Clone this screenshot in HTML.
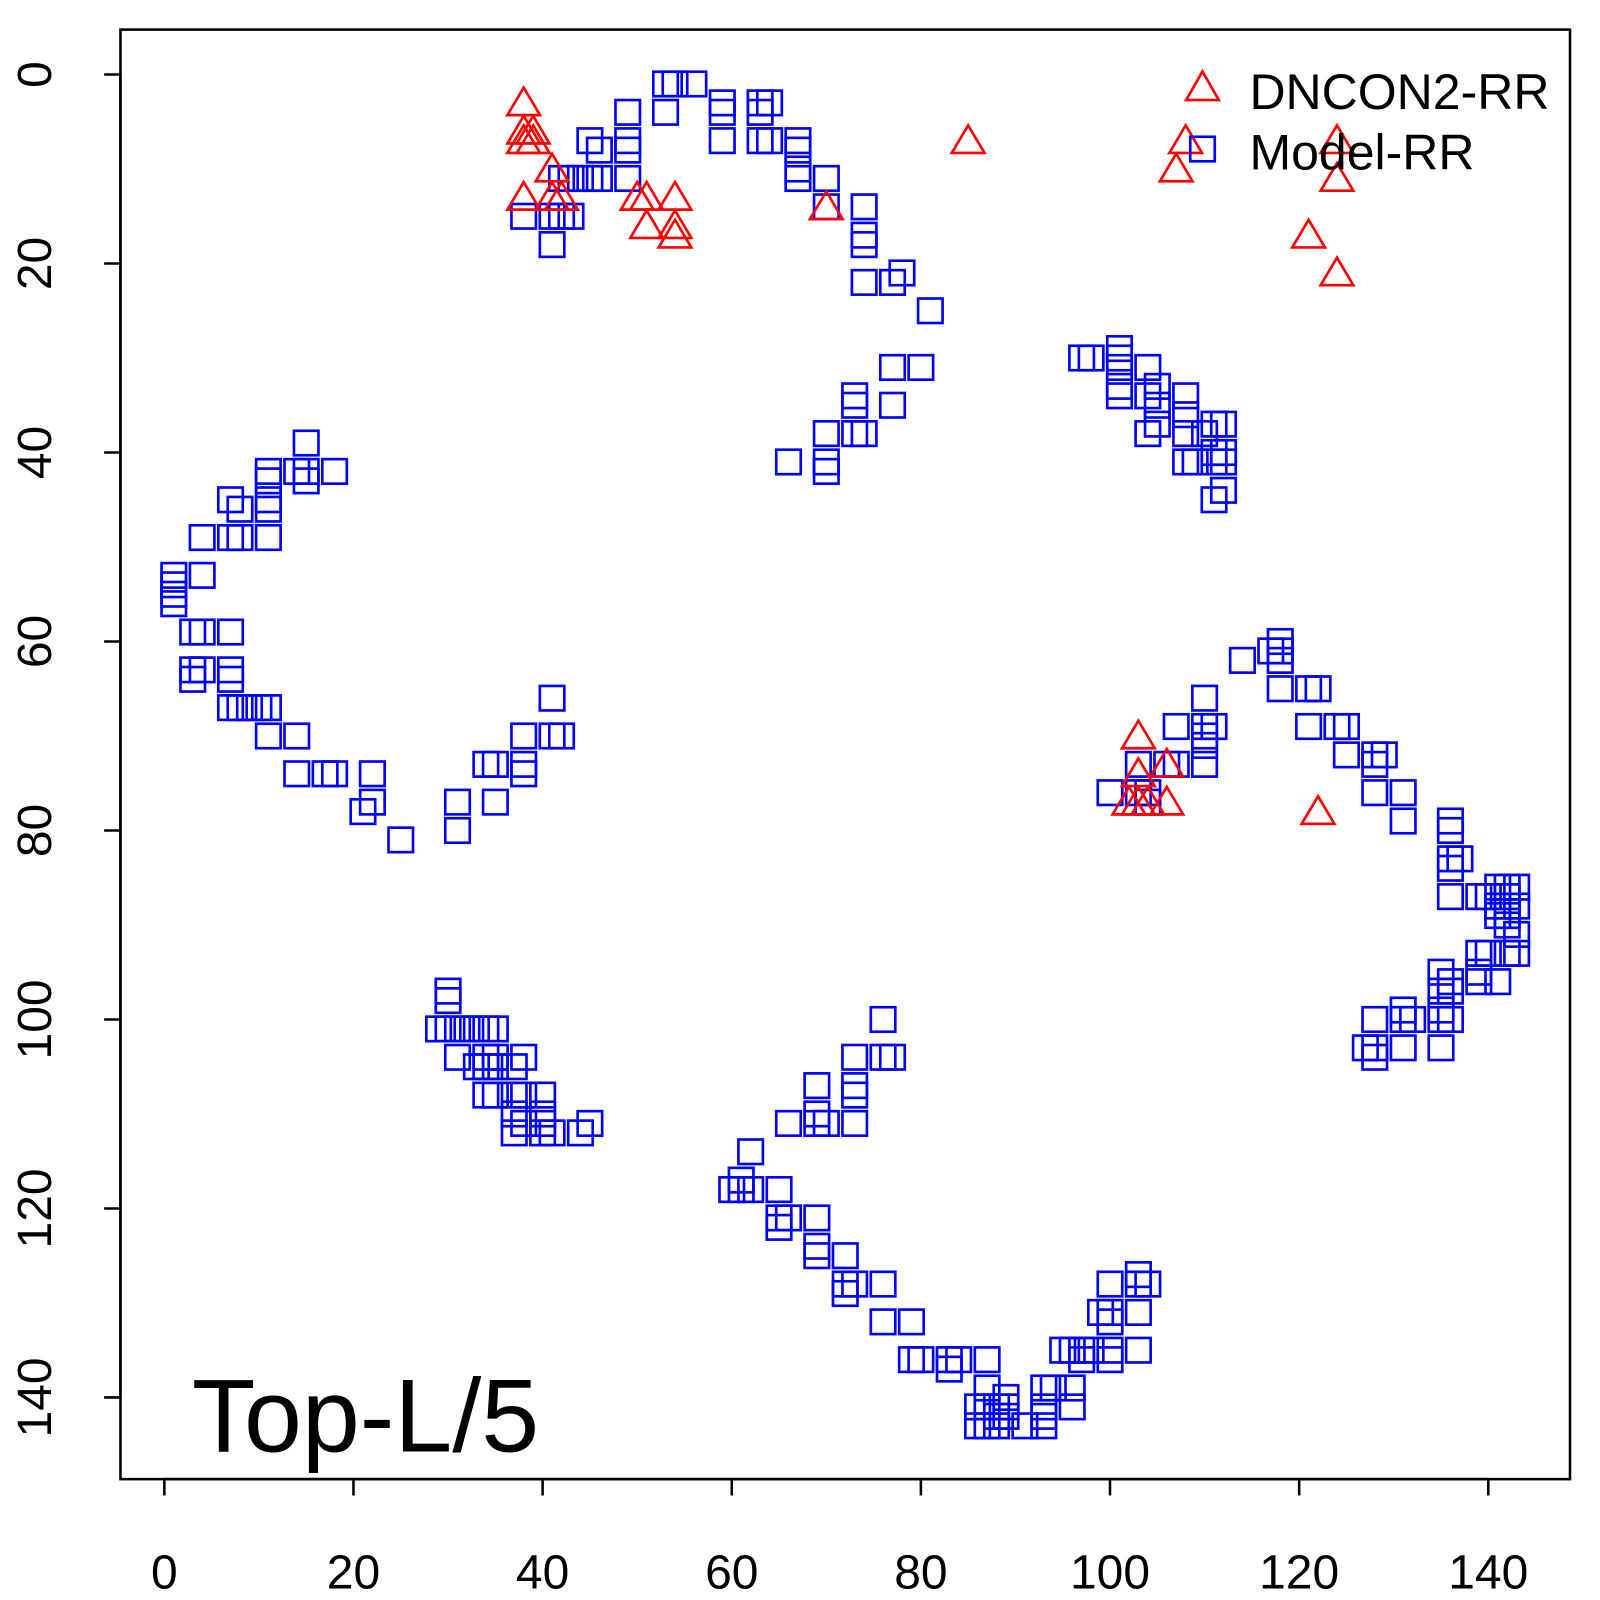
<!DOCTYPE html>
<html><head><meta charset="utf-8"><style>
html,body{margin:0;padding:0;background:#fff;}
svg{display:block;font-family:"Liberation Sans",sans-serif;}
</style></head><body>
<svg id="s" width="1600" height="1600" viewBox="0 0 1600 1600" xmlns="http://www.w3.org/2000/svg">
<rect x="0" y="0" width="1600" height="1600" fill="#fff"/>
<g transform="scale(1.0208)">
<rect x="118" y="29" width="1420" height="1420" fill="none" stroke="#000" stroke-width="2.5"/>
<g id="ax" stroke="#000" stroke-width="2.5"></g>
<g id="lab" font-size="47" fill="#000"></g>
<g id="pts" fill="none" stroke-width="2.6"></g>
<polygon points="1178,70 1162,98 1194,98" fill="none" stroke="#f00" stroke-width="2.6"/>
<rect x="1166" y="134" width="24" height="24" fill="none" stroke="#00f" stroke-width="2.6"/>
<text x="1224" y="107" font-size="49">DNCON2-RR</text>
<text x="1224" y="166" font-size="49">Model-RR</text>
<text x="188" y="1422" font-size="102">Top-L/5</text>
</g>
</svg>
<script>
const NS="http://www.w3.org/2000/svg";
const X=v=>161+v*9.264, Y=v=>73+v*9.257;
function el(p,t,a,txt){const e=document.createElementNS(NS,t);for(const k in a)e.setAttribute(k,a[k]);if(txt!==undefined)e.textContent=txt;document.getElementById(p).appendChild(e);}
el("ax","line",{x1:X(0),x2:X(140),y1:1449,y2:1449});
el("ax","line",{x1:118,x2:118,y1:Y(0),y2:Y(140)});
for(let v=0;v<=140;v+=20){
 el("ax","line",{x1:X(v),x2:X(v),y1:1449,y2:1465});
 el("ax","line",{x1:102,x2:118,y1:Y(v),y2:Y(v)});
 el("lab","text",{x:X(v),y:1556,"text-anchor":"middle"},String(v));
 el("lab","text",{x:0,y:0,"text-anchor":"middle",transform:`translate(50,${Y(v)}) rotate(-90)`},String(v));
}
const sq=[[38,15],[41,15],[42,15],[43,15],[41,18],[42,11],[43,11],[44,11],[45,11],[46,11],[45,7],[46,8],[49,4],[49,7],[49,8],[49,11],[53,1],[54,1],[56,1],[53,4],[59,3],[59,4],[59,7],[63,3],[64,3],[63,4],[63,7],[64,7],[67,7],[67,8],[67,10],[67,11],[70,11],[70,14],[74,14],[74,17],[74,18],[74,22],[77,22],[78,21],[81,25],
[66,41],[70,38],[70,41],[70,42],[73,34],[73,35],[73,38],[74,38],[77,31],[77,35],[80,31],
[97,30],[98,30],[101,29],[101,30],[101,31],[101,33],[101,34],[104,31],[104,34],[104,38],[105,33],[105,35],[105,37],[108,34],[108,36],[108,38],[108,41],[109,41],[110,38],[111,37],[111,40],[111,41],[111,45],[112,37],[112,40],[112,41],[112,44],
[1,53],[1,54],[1,55],[1,56],[4,53],[4,49],[3,59],[4,59],[7,59],[3,63],[3,64],[4,63],[7,63],[7,64],[7,67],[8,67],[9,67],[10,67],[11,67],[7,45],[8,46],[7,49],[8,49],[11,49],[11,42],[11,43],[11,45],[11,46],[11,70],[14,70],[14,42],[15,39],[15,42],[15,43],[18,42],[14,74],[17,74],[18,74],[21,78],[22,74],[22,77],[25,81],[31,77],[31,80],[34,73],[35,73],[35,77],[38,70],[38,73],[38,74],[41,66],[41,70],[42,70],
[30,97],[30,98],[29,101],[30,101],[31,101],[32,101],[33,101],[34,101],[35,101],[31,104],[33,105],[34,104],[34,105],[35,104],[35,105],[34,108],[35,108],[37,105],[37,108],[37,110],[37,112],[38,104],[38,108],[38,111],[40,108],[40,110],[40,111],[40,112],[41,112],[44,112],[45,111],
[60,118],[61,117],[61,118],[62,118],[62,114],[65,118],[65,121],[65,122],[66,121],[66,111],[69,107],[69,110],[69,111],[70,111],[69,121],[69,124],[69,125],[72,125],[72,128],[72,129],[73,104],[73,107],[73,108],[73,111],[73,128],[76,100],[76,104],[77,104],[76,128],[76,132],[79,132],[79,136],[80,136],[83,136],[83,137],[84,136],[87,136],[87,139],[87,141],[86,141],[86,143],[87,143],[88,141],[88,142],[88,143],[89,140],[89,141],[89,142],[91,143],[93,139],[93,141],[93,142],[93,143],[94,139],[96,139],[96,141],[95,135],[96,135],[97,135],[98,135],[97,136],[100,135],[100,136],[99,131],[100,131],[100,132],[100,128],[103,127],[103,128],[104,128],[103,131],[103,135],
[100,76],[103,73],[103,76],[104,77],[104,76],[106,73],[107,73],[107,69],[110,69],[110,66],[110,70],[110,71],[110,73],[111,69],[114,62],[117,61],[118,60],[118,61],[118,62],[118,65],[121,65],[121,69],[122,65],[124,69],[125,69],[125,72],[128,72],[128,73],[128,76],[129,72],[131,76],[131,79],[136,79],[136,80],[136,83],[136,84],[136,87],[137,83],[139,87],[139,93],[139,95],[139,96],[140,87],[140,93],[141,86],[141,88],[141,89],[141,96],[142,86],[142,87],[142,88],[142,89],[142,90],[142,93],[143,86],[143,88],[143,91],[143,93],[135,95],[135,97],[135,99],[135,100],[135,103],[136,96],[136,97],[136,100],[131,99],[131,100],[131,103],[132,100],[128,100],[128,103],[128,104],[127,103]];
for(const [a,b] of sq) el("pts","rect",{x:X(a)-12,y:Y(b)-12,width:24,height:24,stroke:"#00f"});
const tr=[[38,3],[38,6],[38,7],[39,6],[39,7],[38,13],[41,10],[41,13],[42,13],[50,13],[51,13],[51,16],[54,13],[54,16],[54,17],[70,14],[85,7],[108,7],[107,10],[124,7],[124,11],[121,17],[124,21],[103,70],[103,74],[102,77],[103,77],[104,77],[106,73],[106,77],[122,78]];
for(const [a,b] of tr){const x=X(a),y=Y(b);el("pts","polygon",{points:`${x},${y-15} ${x-16},${y+12} ${x+16},${y+12}`,stroke:"#f00"});}
</script>
</body></html>
